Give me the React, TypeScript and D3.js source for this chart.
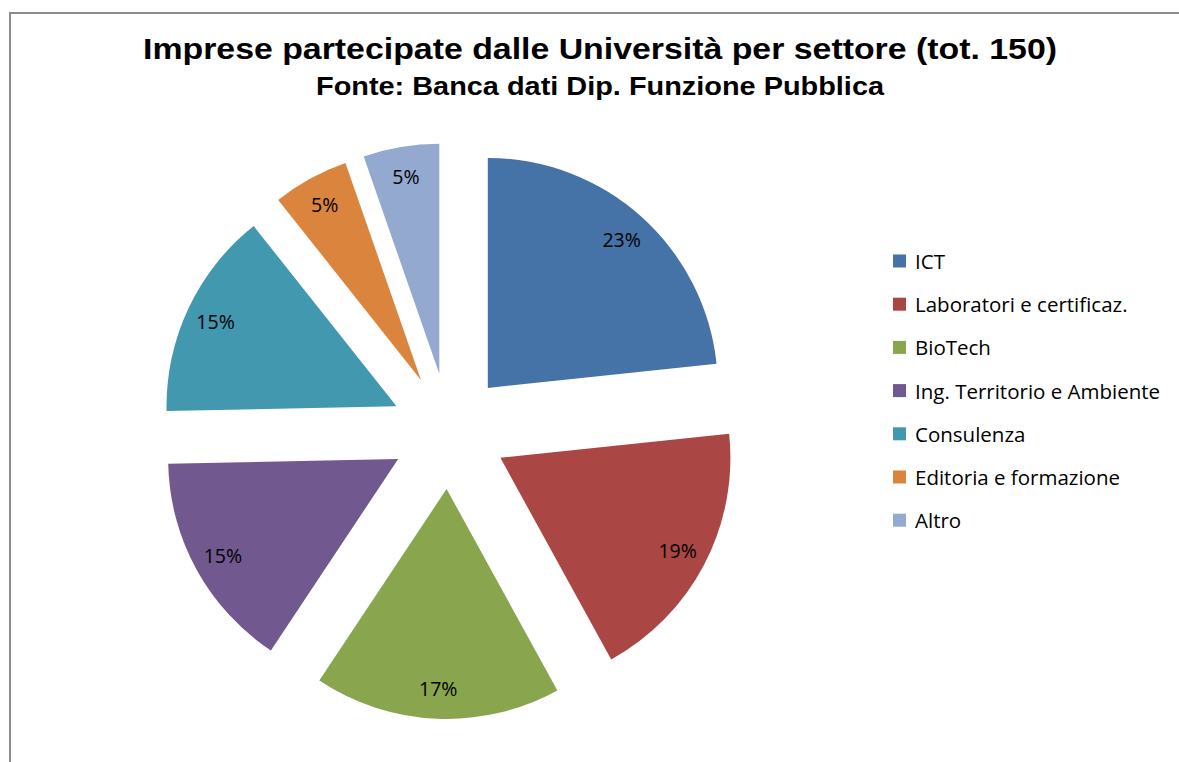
import React from "react";
import * as d3 from "d3";

const categories = [
  "ICT",
  "Laboratori e certificaz.",
  "BioTech",
  "Ing. Territorio e Ambiente",
  "Consulenza",
  "Editoria e formazione",
  "Altro",
];
const counts = [35, 28, 26, 23, 22, 8, 8];
const colors = ["#4572A7", "#AA4643", "#89A54E", "#71588F", "#4198AF", "#DB843D", "#93A9CF"];

const W = 1179;
const H = 762;
const cx = 449;
const cy = 431;
const R = 230;
const explode = 58;
const labelR = 200;

export default function App() {
  const total = d3.sum(counts);
  const pie = d3.pie<number>().sort(null).value((d) => d);
  const arcs = pie(counts);
  const arcGen = d3.arc<d3.PieArcDatum<number>>().innerRadius(0).outerRadius(R);
  const fmt = d3.format(".0%");
  const legendY = d3.scaleLinear().domain([0, 1]).range([261, 304.2]);

  return (
    <svg
      width={W}
      height={H}
      style={{ position: "absolute", left: 0, top: 0, display: "block", background: "#fff" }}
    >
      <rect x={0} y={0} width={W} height={H} fill="#fff" />
      <path d={`M10,${H} L10,13 L${W},13`} fill="none" stroke="#8c8c8c" strokeWidth={2} />
      <text
        x={600}
        y={59}
        textAnchor="middle"
        fontFamily="Liberation Sans, Arial, sans-serif"
        fontWeight="bold"
        fontSize={29}
        textLength={914}
        lengthAdjust="spacingAndGlyphs"
        fill="#000"
      >
        Imprese partecipate dalle Università per settore (tot. 150)
      </text>
      <text
        x={600}
        y={95}
        textAnchor="middle"
        fontFamily="Liberation Sans, Arial, sans-serif"
        fontWeight="bold"
        fontSize={25}
        textLength={568}
        lengthAdjust="spacingAndGlyphs"
        fill="#000"
      >
        Fonte: Banca dati Dip. Funzione Pubblica
      </text>
      {arcs.map((a, i) => {
        const mid = (a.startAngle + a.endAngle) / 2;
        const ox = cx + explode * Math.sin(mid);
        const oy = cy - explode * Math.cos(mid);
        const lx = ox + labelR * Math.sin(mid);
        const ly = oy - labelR * Math.cos(mid);
        return (
          <g key={categories[i]}>
            <path d={arcGen(a) || ""} transform={`translate(${ox},${oy})`} fill={colors[i]} />
            <text
              x={lx}
              y={ly}
              textAnchor="middle"
              dominantBaseline="central"
              fontFamily="Open Sans, Noto Sans, sans-serif"
              fontSize={19.5}
              fill="#000"
            >
              {fmt(counts[i] / total)}
            </text>
          </g>
        );
      })}
      {categories.map((c, i) => (
        <g key={c} transform={`translate(893,${legendY(i)})`}>
          <rect x={0} y={-6.5} width={13} height={13} fill={colors[i]} />
          <text
            x={22}
            y={0}
            dominantBaseline="central"
            fontFamily="Open Sans, Noto Sans, sans-serif"
            fontSize={20.5}
            fill="#000"
          >
            {c}
          </text>
        </g>
      ))}
    </svg>
  );
}
